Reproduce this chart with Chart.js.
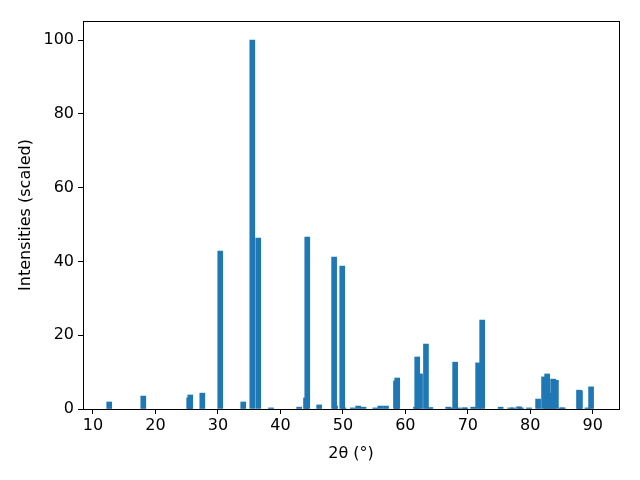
<!DOCTYPE html>
<html>
<head>
<meta charset="utf-8">
<script src="https://cdn.jsdelivr.net/npm/chart.js@4/dist/chart.umd.min.js"></script>
<style>
  html, body { margin: 0; padding: 0; background: #fff; }
  #wrap { width: 640px; height: 480px; }
</style>
</head>
<body>
<div id="wrap"><canvas id="chart" width="640" height="480"></canvas></div>
<script>
// peak positions (2 theta, degrees) and scaled intensities
let twoTheta = [12.6, 18.05, 25.4, 25.57, 27.5, 30.37, 34.05, 35.5, 36.45, 38.5,
    43.0, 44.1, 44.3, 46.2, 48.6, 48.75, 49.9, 50.1, 51.6, 52.45,
    53.3, 55.2, 56.0, 56.9, 58.5, 58.7, 61.7, 61.9, 62.35, 63.3,
    64.0, 66.85, 67.3, 67.97, 68.45, 69.4, 69.6, 70.85, 71.65, 72.3,
    75.25, 76.8, 77.25, 78.2, 78.5, 79.8, 81.25, 82.2, 82.7, 83.15,
    83.65, 84.1, 85.0, 85.2, 87.8, 87.95, 89.15, 89.73];
let intensity = [1.9, 3.5, 3.0, 3.8, 4.3, 42.8, 1.9, 100, 46.3, 0.3,
    0.5, 3.0, 46.6, 1.1, 41.2, 0.8, 38.75, 0.3, 0.3, 0.8,
    0.5, 0.3, 0.8, 0.8, 7.6, 8.4, 0.5, 14.1, 9.5, 17.6,
    0.4, 0.5, 0.3, 12.7, 0.3, 0.3, 0.3, 0.5, 12.5, 24.1,
    0.5, 0.3, 0.3, 0.6, 0.3, 0.3, 2.7, 8.7, 9.5, 4.3,
    8.1, 7.8, 0.3, 0.3, 5.1, 4.9, 0.3, 6.0];

let xTicks = [10, 20, 30, 40, 50, 60, 70, 80, 90];
let yTicks = [0, 20, 40, 60, 80, 100];

const points = twoTheta.map((x, i) => ({ x: x, y: intensity[i] }));

// axes box like matplotlib spines
const frame = {
    id: 'frame',
    afterDraw(chart) {
        const a = chart.chartArea;
        const c = chart.ctx;
        c.save();
        c.strokeStyle = '#000';
        c.lineWidth = 1;
        c.strokeRect(a.left + 0.5, a.top + 0.5, a.right - a.left, a.bottom - a.top);
        c.restore();
    }
};

const font = { family: 'DejaVu Sans', size: 16 };

const config = {
    type: 'bar',
    data: {
        datasets: [{
            data: points,
            backgroundColor: '#1f77b4',
            borderWidth: 0,
            barThickness: 5
        }]
    },
    options: {
        responsive: false,
        animation: false,
        layout: { padding: { left: 0, right: 21, top: 21, bottom: 0 } },
        plugins: { legend: { display: false }, tooltip: { enabled: false } },
        scales: {
            x: {
                type: 'linear',
                offset: false,
                min: 8.4,
                max: 94.2,
                afterBuildTicks: s => { s.ticks = xTicks.map(v => ({ value: v })); },
                afterFit: s => { s.height = 71; },
                grid: { display: true, offset: false, drawOnChartArea: false, tickLength: 5, tickColor: '#000' },
                border: { display: false },
                ticks: { color: '#000', font: font, padding: 2, maxRotation: 0 },
                title: { display: true, text: '2θ (°)', color: '#000', font: font, padding: { top: 4, bottom: 17 } }
            },
            y: {
                min: 0,
                max: 105.15,
                afterBuildTicks: s => { s.ticks = yTicks.map(v => ({ value: v })); },
                afterFit: s => { s.width = 83; },
                grid: { display: true, offset: false, drawOnChartArea: false, tickLength: 5, tickColor: '#000' },
                border: { display: false },
                ticks: { color: '#000', font: font, padding: 4 },
                title: { display: true, text: 'Intensities (scaled)', color: '#000', font: font, padding: { top: 16, bottom: 16 } }
            }
        }
    },
    plugins: [frame]
};

const ctx = document.getElementById('chart');
const myChart = new Chart(ctx, config);
</script>
</body>
</html>
